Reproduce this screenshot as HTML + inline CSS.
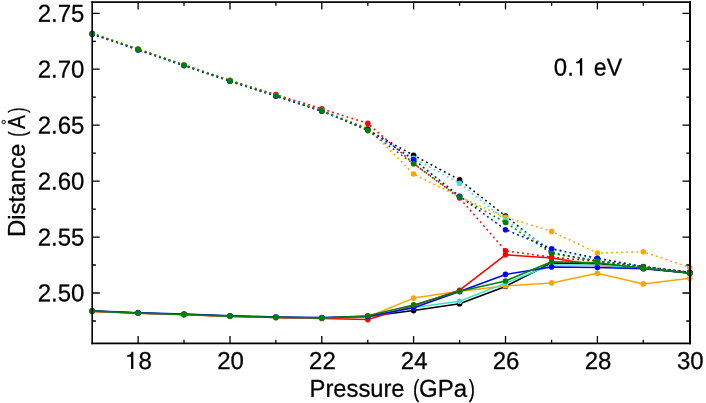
<!DOCTYPE html>
<html><head><meta charset="utf-8"><title>chart</title>
<style>html,body{margin:0;padding:0;background:#fff;overflow:hidden}svg{display:block}text{font-family:"Liberation Sans",sans-serif;font-size:24px;fill:#000}</style></head><body>
<svg width="706" height="403" viewBox="0 0 706 403">
<rect x="0" y="0" width="706" height="403" fill="#ffffff"/>
<defs><clipPath id="cp"><rect x="92.2" y="2.1" width="597.8" height="341.29999999999995"/></clipPath></defs>
<g fill="none" stroke-linejoin="round">
<polyline points="92.20,311.20 138.10,313.10 184.00,314.50 230.00,316.20 275.90,317.40 321.80,318.00 367.80,316.50 413.60,310.60 459.60,303.70 505.50,286.50 551.60,263.00 597.40,263.80 643.30,268.30 689.70,273.00" stroke="#000000" stroke-width="1.55"/>
<g fill="#000000" stroke="none"><circle cx="92.20" cy="311.20" r="2.8"/><circle cx="138.10" cy="313.10" r="2.8"/><circle cx="184.00" cy="314.50" r="2.8"/><circle cx="230.00" cy="316.20" r="2.8"/><circle cx="275.90" cy="317.40" r="2.8"/><circle cx="321.80" cy="318.00" r="2.8"/><circle cx="367.80" cy="316.50" r="2.8"/><circle cx="413.60" cy="310.60" r="2.8"/><circle cx="459.60" cy="303.70" r="2.8"/><circle cx="505.50" cy="286.50" r="2.8"/><circle cx="551.60" cy="263.00" r="2.8"/><circle cx="597.40" cy="263.80" r="2.8"/><circle cx="643.30" cy="268.30" r="2.8"/><circle cx="689.70" cy="273.00" r="2.8"/></g>
<polyline points="92.20,33.70 138.10,49.50 184.00,65.30 230.00,80.80 275.90,95.80 321.80,110.80 367.80,130.00 413.60,155.30 459.60,179.90 505.50,216.00 551.60,252.80 597.40,261.00 643.30,266.80 689.70,272.50" stroke="#000000" stroke-width="1.55" stroke-dasharray="1.85 3.2"/>
<g fill="#000000" stroke="none"><circle cx="92.20" cy="33.70" r="2.8"/><circle cx="138.10" cy="49.50" r="2.8"/><circle cx="184.00" cy="65.30" r="2.8"/><circle cx="230.00" cy="80.80" r="2.8"/><circle cx="275.90" cy="95.80" r="2.8"/><circle cx="321.80" cy="110.80" r="2.8"/><circle cx="367.80" cy="130.00" r="2.8"/><circle cx="413.60" cy="155.30" r="2.8"/><circle cx="459.60" cy="179.90" r="2.8"/><circle cx="505.50" cy="216.00" r="2.8"/><circle cx="551.60" cy="252.80" r="2.8"/><circle cx="597.40" cy="261.00" r="2.8"/><circle cx="643.30" cy="266.80" r="2.8"/><circle cx="689.70" cy="272.50" r="2.8"/></g>
<polyline points="92.20,311.40 138.10,313.30 184.00,314.70 230.00,316.40 275.90,317.60 321.80,318.20 367.80,317.00 413.60,298.10 459.60,291.20 505.50,286.00 551.60,282.90 597.40,273.30 643.30,283.90 689.70,278.20" stroke="#ffa500" stroke-width="1.55"/>
<g fill="#ffa500" stroke="none"><circle cx="92.20" cy="311.40" r="2.8"/><circle cx="138.10" cy="313.30" r="2.8"/><circle cx="184.00" cy="314.70" r="2.8"/><circle cx="230.00" cy="316.40" r="2.8"/><circle cx="275.90" cy="317.60" r="2.8"/><circle cx="321.80" cy="318.20" r="2.8"/><circle cx="367.80" cy="317.00" r="2.8"/><circle cx="413.60" cy="298.10" r="2.8"/><circle cx="459.60" cy="291.20" r="2.8"/><circle cx="505.50" cy="286.00" r="2.8"/><circle cx="551.60" cy="282.90" r="2.8"/><circle cx="597.40" cy="273.30" r="2.8"/><circle cx="643.30" cy="283.90" r="2.8"/><circle cx="689.70" cy="278.20" r="2.8"/></g>
<polyline points="92.20,33.00 138.10,48.80 184.00,64.60 230.00,80.10 275.90,95.10 321.80,110.10 367.80,128.00 413.60,174.00 459.60,197.00 505.50,217.20 551.60,231.40 597.40,253.00 643.30,251.80 689.70,267.50" stroke="#ffa500" stroke-width="1.55" stroke-dasharray="1.85 3.2"/>
<g fill="#ffa500" stroke="none"><circle cx="92.20" cy="33.00" r="2.8"/><circle cx="138.10" cy="48.80" r="2.8"/><circle cx="184.00" cy="64.60" r="2.8"/><circle cx="230.00" cy="80.10" r="2.8"/><circle cx="275.90" cy="95.10" r="2.8"/><circle cx="321.80" cy="110.10" r="2.8"/><circle cx="367.80" cy="128.00" r="2.8"/><circle cx="413.60" cy="174.00" r="2.8"/><circle cx="459.60" cy="197.00" r="2.8"/><circle cx="505.50" cy="217.20" r="2.8"/><circle cx="551.60" cy="231.40" r="2.8"/><circle cx="597.40" cy="253.00" r="2.8"/><circle cx="643.30" cy="251.80" r="2.8"/><circle cx="689.70" cy="267.50" r="2.8"/></g>
<polyline points="92.20,311.30 138.10,313.20 184.00,314.60 230.00,316.30 275.90,317.50 321.80,318.40 367.80,319.60 413.60,305.70 459.60,290.20 505.50,254.80 551.60,257.90 597.40,265.30 643.30,268.30 689.70,273.00" stroke="#ff0000" stroke-width="1.55"/>
<g fill="#ff0000" stroke="none"><circle cx="92.20" cy="311.30" r="2.8"/><circle cx="138.10" cy="313.20" r="2.8"/><circle cx="184.00" cy="314.60" r="2.8"/><circle cx="230.00" cy="316.30" r="2.8"/><circle cx="275.90" cy="317.50" r="2.8"/><circle cx="321.80" cy="318.40" r="2.8"/><circle cx="367.80" cy="319.60" r="2.8"/><circle cx="413.60" cy="305.70" r="2.8"/><circle cx="459.60" cy="290.20" r="2.8"/><circle cx="505.50" cy="254.80" r="2.8"/><circle cx="551.60" cy="257.90" r="2.8"/><circle cx="597.40" cy="265.30" r="2.8"/><circle cx="643.30" cy="268.30" r="2.8"/><circle cx="689.70" cy="273.00" r="2.8"/></g>
<polyline points="92.20,33.60 138.10,49.20 184.00,65.00 230.00,80.50 275.90,94.60 321.80,108.80 367.80,123.40 413.60,163.50 459.60,198.00 505.50,250.80 551.60,257.20 597.40,261.30 643.30,266.80 689.70,272.50" stroke="#ff0000" stroke-width="1.55" stroke-dasharray="1.85 3.2"/>
<g fill="#ff0000" stroke="none"><circle cx="92.20" cy="33.60" r="2.8"/><circle cx="138.10" cy="49.20" r="2.8"/><circle cx="184.00" cy="65.00" r="2.8"/><circle cx="230.00" cy="80.50" r="2.8"/><circle cx="275.90" cy="94.60" r="2.8"/><circle cx="321.80" cy="108.80" r="2.8"/><circle cx="367.80" cy="123.40" r="2.8"/><circle cx="413.60" cy="163.50" r="2.8"/><circle cx="459.60" cy="198.00" r="2.8"/><circle cx="505.50" cy="250.80" r="2.8"/><circle cx="551.60" cy="257.20" r="2.8"/><circle cx="597.40" cy="261.30" r="2.8"/><circle cx="643.30" cy="266.80" r="2.8"/><circle cx="689.70" cy="272.50" r="2.8"/></g>
<polyline points="92.20,311.00 138.10,312.90 184.00,314.30 230.00,316.00 275.90,317.20 321.80,317.80 367.80,316.50 413.60,307.40 459.60,301.20 505.50,283.10 551.60,264.90 597.40,265.00 643.30,268.30 689.70,273.00" stroke="#40e0d0" stroke-width="1.55"/>
<g fill="#40e0d0" stroke="none"><circle cx="92.20" cy="311.00" r="2.8"/><circle cx="138.10" cy="312.90" r="2.8"/><circle cx="184.00" cy="314.30" r="2.8"/><circle cx="230.00" cy="316.00" r="2.8"/><circle cx="275.90" cy="317.20" r="2.8"/><circle cx="321.80" cy="317.80" r="2.8"/><circle cx="367.80" cy="316.50" r="2.8"/><circle cx="413.60" cy="307.40" r="2.8"/><circle cx="459.60" cy="301.20" r="2.8"/><circle cx="505.50" cy="283.10" r="2.8"/><circle cx="551.60" cy="264.90" r="2.8"/><circle cx="597.40" cy="265.00" r="2.8"/><circle cx="643.30" cy="268.30" r="2.8"/><circle cx="689.70" cy="273.00" r="2.8"/></g>
<polyline points="92.20,33.50 138.10,49.30 184.00,65.10 230.00,80.60 275.90,95.60 321.80,110.60 367.80,130.00 413.60,158.30 459.60,183.20 505.50,220.30 551.60,249.60 597.40,259.30 643.30,266.80 689.70,272.50" stroke="#40e0d0" stroke-width="1.55" stroke-dasharray="1.85 3.2"/>
<g fill="#40e0d0" stroke="none"><circle cx="92.20" cy="33.50" r="2.8"/><circle cx="138.10" cy="49.30" r="2.8"/><circle cx="184.00" cy="65.10" r="2.8"/><circle cx="230.00" cy="80.60" r="2.8"/><circle cx="275.90" cy="95.60" r="2.8"/><circle cx="321.80" cy="110.60" r="2.8"/><circle cx="367.80" cy="130.00" r="2.8"/><circle cx="413.60" cy="158.30" r="2.8"/><circle cx="459.60" cy="183.20" r="2.8"/><circle cx="505.50" cy="220.30" r="2.8"/><circle cx="551.60" cy="249.60" r="2.8"/><circle cx="597.40" cy="259.30" r="2.8"/><circle cx="643.30" cy="266.80" r="2.8"/><circle cx="689.70" cy="272.50" r="2.8"/></g>
<polyline points="92.20,310.75 138.10,312.65 184.00,314.05 230.00,315.75 275.90,316.95 321.80,317.55 367.80,316.40 413.60,307.70 459.60,291.60 505.50,274.40 551.60,266.90 597.40,267.50 643.30,268.80 689.70,273.00" stroke="#0000ff" stroke-width="1.55"/>
<g fill="#0000ff" stroke="none"><circle cx="92.20" cy="310.75" r="2.8"/><circle cx="138.10" cy="312.65" r="2.8"/><circle cx="184.00" cy="314.05" r="2.8"/><circle cx="230.00" cy="315.75" r="2.8"/><circle cx="275.90" cy="316.95" r="2.8"/><circle cx="321.80" cy="317.55" r="2.8"/><circle cx="367.80" cy="316.40" r="2.8"/><circle cx="413.60" cy="307.70" r="2.8"/><circle cx="459.60" cy="291.60" r="2.8"/><circle cx="505.50" cy="274.40" r="2.8"/><circle cx="551.60" cy="266.90" r="2.8"/><circle cx="597.40" cy="267.50" r="2.8"/><circle cx="643.30" cy="268.80" r="2.8"/><circle cx="689.70" cy="273.00" r="2.8"/></g>
<polyline points="92.20,34.15 138.10,49.95 184.00,65.75 230.00,81.25 275.90,96.25 321.80,111.25 367.80,129.30 413.60,159.60 459.60,196.20 505.50,229.70 551.60,248.70 597.40,258.30 643.30,266.50 689.70,272.20" stroke="#0000ff" stroke-width="1.55" stroke-dasharray="1.85 3.2"/>
<g fill="#0000ff" stroke="none"><circle cx="92.20" cy="34.15" r="2.8"/><circle cx="138.10" cy="49.95" r="2.8"/><circle cx="184.00" cy="65.75" r="2.8"/><circle cx="230.00" cy="81.25" r="2.8"/><circle cx="275.90" cy="96.25" r="2.8"/><circle cx="321.80" cy="111.25" r="2.8"/><circle cx="367.80" cy="129.30" r="2.8"/><circle cx="413.60" cy="159.60" r="2.8"/><circle cx="459.60" cy="196.20" r="2.8"/><circle cx="505.50" cy="229.70" r="2.8"/><circle cx="551.60" cy="248.70" r="2.8"/><circle cx="597.40" cy="258.30" r="2.8"/><circle cx="643.30" cy="266.50" r="2.8"/><circle cx="689.70" cy="272.20" r="2.8"/></g>
<polyline points="92.20,311.10 138.10,313.00 184.00,314.40 230.00,316.10 275.90,317.30 321.80,317.90 367.80,315.70 413.60,304.90 459.60,291.20 505.50,281.00 551.60,261.80 597.40,262.80 643.30,268.30 689.70,273.20" stroke="#008000" stroke-width="1.55"/>
<g fill="#008000" stroke="none"><circle cx="92.20" cy="311.10" r="2.8"/><circle cx="138.10" cy="313.00" r="2.8"/><circle cx="184.00" cy="314.40" r="2.8"/><circle cx="230.00" cy="316.10" r="2.8"/><circle cx="275.90" cy="317.30" r="2.8"/><circle cx="321.80" cy="317.90" r="2.8"/><circle cx="367.80" cy="315.70" r="2.8"/><circle cx="413.60" cy="304.90" r="2.8"/><circle cx="459.60" cy="291.20" r="2.8"/><circle cx="505.50" cy="281.00" r="2.8"/><circle cx="551.60" cy="261.80" r="2.8"/><circle cx="597.40" cy="262.80" r="2.8"/><circle cx="643.30" cy="268.30" r="2.8"/><circle cx="689.70" cy="273.20" r="2.8"/></g>
<polyline points="92.20,33.60 138.10,49.40 184.00,65.20 230.00,80.70 275.90,95.70 321.80,110.70 367.80,130.60 413.60,163.80 459.60,197.00 505.50,222.50 551.60,253.50 597.40,261.00 643.30,266.80 689.70,272.80" stroke="#008000" stroke-width="1.55" stroke-dasharray="1.85 3.2"/>
<g fill="#008000" stroke="none"><circle cx="92.20" cy="33.60" r="2.8"/><circle cx="138.10" cy="49.40" r="2.8"/><circle cx="184.00" cy="65.20" r="2.8"/><circle cx="230.00" cy="80.70" r="2.8"/><circle cx="275.90" cy="95.70" r="2.8"/><circle cx="321.80" cy="110.70" r="2.8"/><circle cx="367.80" cy="130.60" r="2.8"/><circle cx="413.60" cy="163.80" r="2.8"/><circle cx="459.60" cy="197.00" r="2.8"/><circle cx="505.50" cy="222.50" r="2.8"/><circle cx="551.60" cy="253.50" r="2.8"/><circle cx="597.40" cy="261.00" r="2.8"/><circle cx="643.30" cy="266.80" r="2.8"/><circle cx="689.70" cy="272.80" r="2.8"/></g>
</g>
<path d="M92.2 13.3 h7.5 M690.0 13.3 h-7.5 M92.2 69.2 h7.5 M690.0 69.2 h-7.5 M92.2 125.2 h7.5 M690.0 125.2 h-7.5 M92.2 181.1 h7.5 M690.0 181.1 h-7.5 M92.2 237.1 h7.5 M690.0 237.1 h-7.5 M92.2 293.0 h7.5 M690.0 293.0 h-7.5 M92.2 41.3 h3.7 M690.0 41.3 h-3.7 M92.2 97.2 h3.7 M690.0 97.2 h-3.7 M92.2 153.2 h3.7 M690.0 153.2 h-3.7 M92.2 209.1 h3.7 M690.0 209.1 h-3.7 M92.2 265.0 h3.7 M690.0 265.0 h-3.7 M92.2 321.0 h3.7 M690.0 321.0 h-3.7 M138.1 343.4 v-7.5 M138.1 2.1 v7.5 M230.0 343.4 v-7.5 M230.0 2.1 v7.5 M321.8 343.4 v-7.5 M321.8 2.1 v7.5 M413.6 343.4 v-7.5 M413.6 2.1 v7.5 M505.5 343.4 v-7.5 M505.5 2.1 v7.5 M597.4 343.4 v-7.5 M597.4 2.1 v7.5 M184.0 343.4 v-3.7 M184.0 2.1 v3.7 M275.9 343.4 v-3.7 M275.9 2.1 v3.7 M367.8 343.4 v-3.7 M367.8 2.1 v3.7 M459.6 343.4 v-3.7 M459.6 2.1 v3.7 M551.6 343.4 v-3.7 M551.6 2.1 v3.7 M643.3 343.4 v-3.7 M643.3 2.1 v3.7" stroke="#000" stroke-width="1.3" fill="none"/>
<g fill="#000">
<rect x="91.400" y="1.250" width="1.600" height="343.025"/>
<rect x="689.000" y="1.250" width="2.000" height="343.025"/>
<rect x="91.400" y="1.250" width="599.600" height="1.700"/>
<rect x="91.400" y="342.525" width="599.600" height="1.750"/>
</g>
<g opacity="0.999" stroke="#000" stroke-width="0.28" stroke-linejoin="round">
<text transform="translate(84.40 21.65) rotate(0.03) scale(1.0 1.02)" text-anchor="end">2.75</text>
<text transform="translate(84.40 77.55) rotate(0.03) scale(1.0 1.02)" text-anchor="end">2.70</text>
<text transform="translate(84.40 133.55) rotate(0.03) scale(1.0 1.02)" text-anchor="end">2.65</text>
<text transform="translate(84.40 189.45) rotate(0.03) scale(1.0 1.02)" text-anchor="end">2.60</text>
<text transform="translate(84.40 245.45) rotate(0.03) scale(1.0 1.02)" text-anchor="end">2.55</text>
<text transform="translate(84.40 301.35) rotate(0.03) scale(1.0 1.02)" text-anchor="end">2.50</text>
<path d="M133.36 369.10 L131.06 369.10 L131.06 356.75 L127.11 356.75 L127.11 355.20 C129.56 355.00 130.96 354.30 131.66 351.80 L133.36 351.80 Z" fill="#000" stroke="none"/>
<text transform="translate(138.40 369.10) rotate(0.03) scale(1 1.02)" text-anchor="start">8</text>
<text transform="translate(230.60 369.10) rotate(0.03) scale(1.0 1.02)" text-anchor="middle">20</text>
<text transform="translate(322.40 369.10) rotate(0.03) scale(1.0 1.02)" text-anchor="middle">22</text>
<text transform="translate(414.20 369.10) rotate(0.03) scale(1.0 1.02)" text-anchor="middle">24</text>
<text transform="translate(506.10 369.10) rotate(0.03) scale(1.0 1.02)" text-anchor="middle">26</text>
<text transform="translate(598.00 369.10) rotate(0.03) scale(1.0 1.02)" text-anchor="middle">28</text>
<text transform="translate(690.30 369.10) rotate(0.03) scale(1.0 1.02)" text-anchor="middle">30</text>
<text transform="translate(309.55 396.70) rotate(0.03) scale(0.99 1.02)" text-anchor="start">Pressure</text>
<text transform="translate(416.10 396.70) rotate(0.03) scale(0.78 1.02)" text-anchor="middle">(</text>
<text transform="translate(419.05 396.70) rotate(0.03) scale(1 1.02)" text-anchor="start">GPa</text>
<text transform="translate(471.95 396.70) rotate(0.03) scale(0.78 1.02)" text-anchor="middle">)</text>
<text transform="translate(25.3 143.70) rotate(-90) scale(1.0 1.02)" text-anchor="end">Distance</text>
<text transform="translate(25.3 134.10) rotate(-90) scale(0.66 1.02)" text-anchor="middle">(</text>
<text transform="translate(25.3 122.00) rotate(-90) scale(0.87 1.02)" text-anchor="middle">A</text>
<text transform="translate(25.3 110.20) rotate(-90) scale(0.66 1.02)" text-anchor="middle">)</text>
<circle cx="3.7" cy="122.0" r="1.7" fill="none" stroke="#000" stroke-width="1.0"/>
<text transform="translate(553.80 75.55) rotate(0.03) scale(1 1.02)" text-anchor="start">0.</text>
<path d="M582.22 75.55 L579.92 75.55 L579.92 63.20 L575.97 63.20 L575.97 61.65 C578.42 61.45 579.82 60.75 580.52 58.25 L582.22 58.25 Z" fill="#000" stroke="none"/>
<text transform="translate(593.83 75.55) rotate(0.03) scale(0.96 1.02)" text-anchor="start">eV</text>
</g>
</svg></body></html>
